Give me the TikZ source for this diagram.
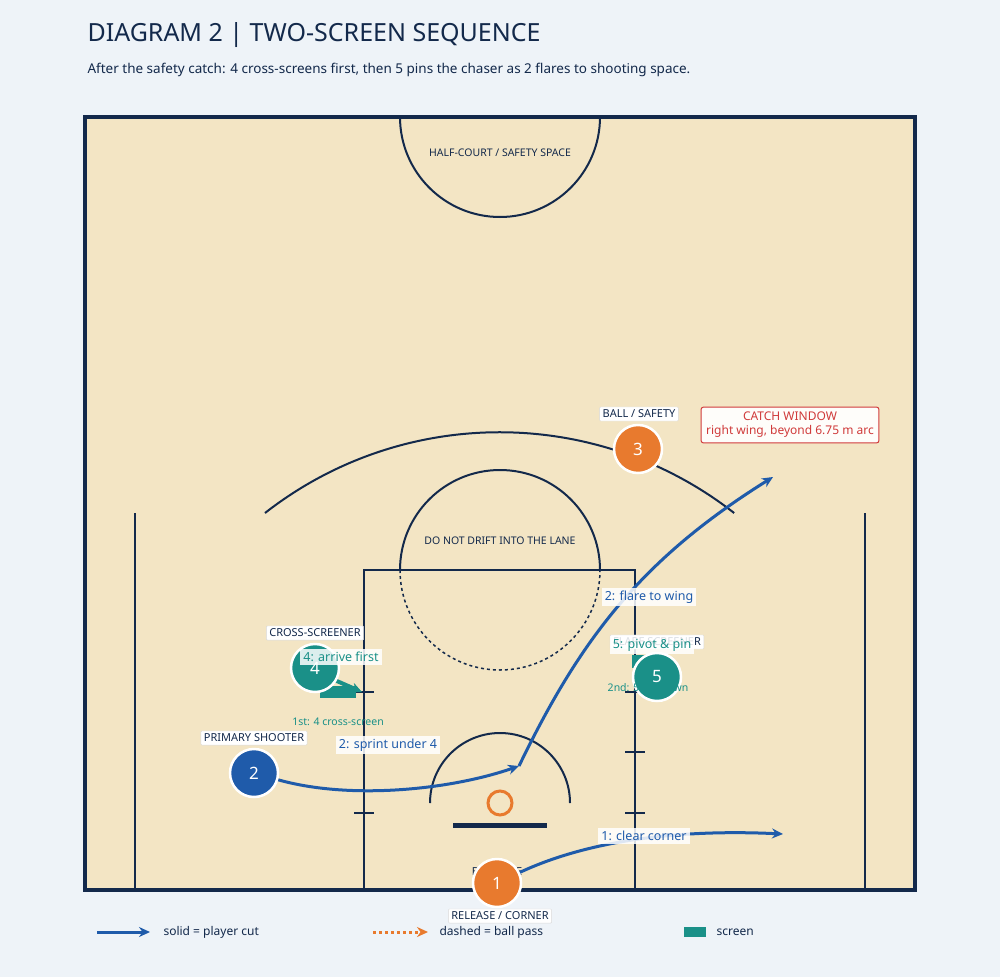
\documentclass[tikz,border=0pt]{standalone}
\usepackage{fontspec}
\setmainfont{Noto Sans}
\usetikzlibrary{arrows.meta}
\definecolor{bgcol}{HTML}{EEF3F8}
\definecolor{courtcol}{HTML}{F3E5C4}
\definecolor{navy}{HTML}{13294B}
\definecolor{cutblue}{HTML}{1F5BAA}
\definecolor{ballorange}{HTML}{E87A2E}
\definecolor{screenteal}{HTML}{1A9088}
\definecolor{alertred}{HTML}{D03A3A}
\tikzset{>={Stealth[length=11pt,width=10pt]}}
\tikzset{%
  court/.style={draw=navy, line width=2pt},
  player/.style={circle, draw=white, line width=2.5pt, minimum size=48pt, inner sep=0pt,
    text=white, font=\fontsize{17}{17}\selectfont\bfseries},
  role/.style={draw=black!15, fill=white, rounded corners=1pt, inner sep=3pt,
    font=\fontsize{11}{11}\selectfont\bfseries, text=navy},
  steplabel/.style={fill=white, fill opacity=0.85, text opacity=1, inner sep=3pt,
    font=\fontsize{12.5}{12.5}\selectfont\bfseries},
  cut/.style={->, cutblue, line width=3pt},
  screen/.style={fill=screenteal, draw=none},
  note/.style={font=\fontsize{10.5}{10.5}\selectfont\bfseries, text=screenteal},
}
\begin{document}
\begin{tikzpicture}[x=1pt, y=-1pt]
  \useasboundingbox[fill=bgcol] (0,0) rectangle (1000,977);

  % title
  \node[anchor=west, text=navy, font=\fontsize{25}{25}\selectfont\bfseries] (title) at (84,35) {DIAGRAM 2 | TWO-SCREEN SEQUENCE};
  \node[anchor=west, text=navy, font=\fontsize{13.5}{13.5}\selectfont] (subtitle) at (84,70) {After the safety catch: 4 cross-screens first, then 5 pins the chaser as 2 flares to shooting space.};

  % court
  \fill[courtcol] (85,117) rectangle (915,890);
  \draw[court] (400,117) arc (180:0:100);
  \node[font=\fontsize{10.5}{10.5}\selectfont\bfseries, text=navy] (safety) at (500,153) {HALF-COURT / SAFETY SPACE};
  \draw[court] (135,513) -- (135,890);
  \draw[court] (865,513) -- (865,890);
  \draw[court] (265,513) arc (232:308:381);
  \draw[court] (364,890) -- (364,570) -- (635,570) -- (635,890);
  \draw[court] (400,570) arc (180:360:100);
  \draw[court, dashed, line width=1.5pt] (400,570) arc (180:0:100);
  \node[font=\fontsize{10.5}{10.5}\selectfont\bfseries, text=navy] (lane) at (500,541) {DO NOT DRIFT INTO THE LANE};
  \foreach \y in {692,813} \draw[navy, line width=1.3pt] (354,\y) -- (374,\y);
  \foreach \y in {692,752,813} \draw[navy, line width=1.3pt] (625,\y) -- (645,\y);
  \draw[court] (430,803) arc (180:360:70);
  \draw[navy, line width=5pt] (453,825) -- (547,825);
  \draw[ballorange, line width=3pt] (500,803) circle (12);
  \node[font=\fontsize{11}{11}\selectfont\bfseries, text=navy] (baseline) at (497,872) {BASELINE};
  \draw[navy, line width=3.5pt] (85,117) rectangle (915,890);

  % screens
  \fill[screen] (320,686) rectangle (356,698);
  \fill[screen] (632,655) rectangle (650,668);

  % cuts
  \coordinate (rim) at (519,766);
  \coordinate (wing) at (773,477);
  \coordinate (corner) at (783,834);
  \draw[->, screenteal, line width=4pt] (330,678) -- (362,692);

  % players
  \node[player, fill=ballorange] (p3) at (638,449) {3};
  \node[player, fill=screenteal] (p5) at (657,677) {5};
  \node[player, fill=screenteal] (p4) at (315,668) {4};
  \node[player, fill=cutblue] (p2) at (254,773) {2};
  \node[player, fill=ballorange] (p1) at (497,883) {1};

  \draw[cut] (p2) .. controls (350,800) and (450,790) .. (rim);
  \draw[cut] (rim) .. controls (580,640) and (640,560) .. (wing);
  \draw[cut] (p1) .. controls (600,835) and (700,830) .. (corner);

  % role labels
  \node[role] (r3) at (639,414) {BALL / SAFETY};
  \node[role] (r4) at (315,633) {CROSS-SCREENER};
  \node[role] (r2) at (254,738) {PRIMARY SHOOTER};
  \node[role] (r1) at (500,916) {RELEASE / CORNER};
  \node[role] (r5) at (657,642) {FLARE SCREENER};

  % step labels
  \node[steplabel, text=cutblue] (s2a) at (388,745) {2: sprint under 4};
  \node[steplabel, text=cutblue] (s2b) at (649,597) {2: flare to wing};
  \node[steplabel, text=cutblue] (s1) at (644,836) {1: clear corner};
  \node[steplabel, text=screenteal] (s4) at (341,657) {4: arrive first};
  \node[steplabel, text=screenteal] (s5) at (652,645) {5: pivot \& pin};
  \node[note] (n4) at (338,722) {1st: 4 cross-screen};
  \node[note] (n5) at (648,689) {2nd: 5 pin-down};

  % catch window
  \node[draw=alertred, fill=white!92!courtcol, line width=1pt, rounded corners=2pt, align=center,
    text=alertred, font=\fontsize{12}{14}\selectfont\bfseries, inner sep=5pt] (catch) at (790,425)
    {CATCH WINDOW\\right wing, beyond 6.75 m arc};

  % legend
  \draw[cut] (97,932) -- (150,932);
  \node[anchor=west, text=navy, font=\fontsize{12}{12}\selectfont] (l1) at (160,932) {solid = player cut};
  \draw[->, ballorange, line width=3pt, dashed] (373,932) -- (428,932);
  \node[anchor=west, text=navy, font=\fontsize{12}{12}\selectfont] (l2) at (436,932) {dashed = ball pass};
  \fill[screen] (684,927) rectangle (706,937);
  \node[anchor=west, text=navy, font=\fontsize{12}{12}\selectfont] (l3) at (713,932) {screen};
\end{tikzpicture}
\end{document}
